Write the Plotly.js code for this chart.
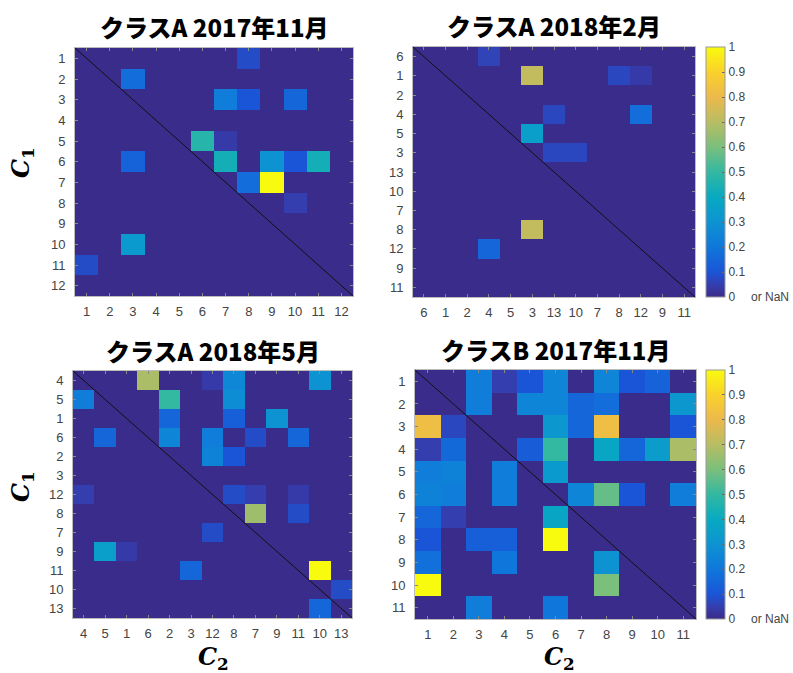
<!DOCTYPE html>
<html>
<head>
<meta charset="utf-8">
<script src="https://cdn.plot.ly/plotly-3.0.1.min.js"></script>
<style>html,body{margin:0;padding:0;background:#fff;}#chart{width:793px;height:673px;}</style>
</head>
<body>
<div id="chart"></div>
<script>
// ---- data ----
const titleA1 = "クラスA 2017年11月";
const titleA2 = "クラスA 2018年2月";
const titleA3 = "クラスA 2018年5月";
const titleB1 = "クラスB 2017年11月";

const labelsA1 = ["1","2","3","4","5","6","7","8","9","10","11","12"];
const zA1 = [
  [0,0,0,0,0,0,0,0.08,0,0,0,0],
  [0,0,0.17,0,0,0,0,0,0,0,0,0],
  [0,0,0,0,0,0,0.22,0.1,0,0.15,0,0],
  [0,0,0,0,0,0,0,0,0,0,0,0],
  [0,0,0,0,0,0.47,0.04,0,0,0,0,0],
  [0,0,0.14,0,0,0,0.43,0,0.3,0.1,0.43,0],
  [0,0,0,0,0,0,0,0.17,1,0,0,0],
  [0,0,0,0,0,0,0,0,0,0.05,0,0],
  [0,0,0,0,0,0,0,0,0,0,0,0],
  [0,0,0.33,0,0,0,0,0,0,0,0,0],
  [0.08,0,0,0,0,0,0,0,0,0,0,0],
  [0,0,0,0,0,0,0,0,0,0,0,0]
];

const labelsA2 = ["6","1","2","4","5","3","13","10","7","8","12","9","11"];
const zA2 = [
  [0,0,0,0.06,0,0,0,0,0,0,0,0,0],
  [0,0,0,0,0,0.72,0,0,0,0.07,0.04,0,0],
  [0,0,0,0,0,0,0,0,0,0,0,0,0],
  [0,0,0,0,0,0,0.07,0,0,0,0.17,0,0],
  [0,0,0,0,0,0.35,0,0,0,0,0,0,0],
  [0,0,0,0,0,0,0.07,0.07,0,0,0,0,0],
  [0,0,0,0,0,0,0,0,0,0,0,0,0],
  [0,0,0,0,0,0,0,0,0,0,0,0,0],
  [0,0,0,0,0,0,0,0,0,0,0,0,0],
  [0,0,0,0,0,0.72,0,0,0,0,0,0,0],
  [0,0,0,0.15,0,0,0,0,0,0,0,0,0],
  [0,0,0,0,0,0,0,0,0,0,0,0,0],
  [0,0,0,0,0,0,0,0,0,0,0,0,0]
];

const labelsA3 = ["4","5","1","6","2","3","12","8","7","9","11","10","13"];
const zA3 = [
  [0,0,0,0.68,0,0,0.04,0.26,0,0,0,0.3,0],
  [0.22,0,0,0,0.5,0,0,0.28,0,0,0,0,0],
  [0,0,0,0,0.15,0,0,0.13,0,0.3,0,0,0],
  [0,0.15,0,0,0.25,0,0.22,0,0.08,0,0.15,0,0],
  [0,0,0,0,0,0,0.24,0.1,0,0,0,0,0],
  [0,0,0,0,0,0,0,0,0,0,0,0,0],
  [0.05,0,0,0,0,0,0,0.08,0.05,0,0.04,0,0],
  [0,0,0,0,0,0,0,0,0.66,0,0.08,0,0],
  [0,0,0,0,0,0,0.08,0,0,0,0,0,0],
  [0,0.35,0.04,0,0,0,0,0,0,0,0,0,0],
  [0,0,0,0,0,0.15,0,0,0,0,0,1,0],
  [0,0,0,0,0,0,0,0,0,0,0,0,0.08],
  [0,0,0,0,0,0,0,0,0,0,0,0.15,0]
];

const labelsB1 = ["1","2","3","4","5","6","7","8","9","10","11"];
const zB1 = [
  [0,0,0.22,0.05,0.1,0.25,0,0.25,0.1,0.14,0],
  [0,0,0.22,0,0.25,0.25,0.15,0.17,0,0,0.32],
  [0.82,0.07,0,0,0,0.32,0.15,0.82,0,0,0.1],
  [0.05,0.16,0,0,0.12,0.5,0,0.38,0.15,0.34,0.68],
  [0.22,0.24,0,0.22,0,0.33,0,0,0,0,0],
  [0.24,0.22,0,0.22,0,0,0.25,0.57,0.1,0,0.22],
  [0.15,0.05,0,0,0,0.38,0,0,0,0,0],
  [0.1,0,0.13,0.13,0,1,0,0,0,0,0],
  [0.18,0,0,0.2,0,0,0,0.3,0,0,0],
  [1,0,0,0,0,0,0,0.6,0,0,0],
  [0,0,0.22,0,0,0.2,0,0,0,0,0]
];

const cbTicks = [0,0.1,0.2,0.3,0.4,0.5,0.6,0.7,0.8,0.9,1];
const cbTickText = ["0","0.1","0.2","0.3","0.4","0.5","0.6","0.7","0.8","0.9","1"];

// ---- style ----
const W = 793, H = 673;
const parula = [
  [0.0,'rgb(58,44,138)'],[0.05,'rgb(53,62,175)'],[0.1,'rgb(27,85,215)'],[0.2,'rgb(15,119,219)'],
  [0.3,'rgb(13,147,210)'],[0.4,'rgb(7,170,193)'],[0.5,'rgb(51,184,161)'],[0.6,'rgb(122,191,124)'],
  [0.7,'rgb(184,189,99)'],[0.8,'rgb(236,185,76)'],[0.9,'rgb(250,209,43)'],[1.0,'rgb(249,251,14)']
];
const tickFont = {family:'Liberation Sans, Arial, sans-serif', size:13, color:'#444'};
const titleFont = {family:'Noto Sans CJK JP, sans-serif', size:24, color:'#000', weight:900};

// panel pixel boxes [left, top, right, bottom]
const boxes = [[75,48,353,296],[413,47,695,297],[73,371,352,618],[415,370,696,619]];
const panels = [
  {z:zA1, labels:labelsA1, title:titleA1, scale:false},
  {z:zA2, labels:labelsA2, title:titleA2, scale:true},
  {z:zA3, labels:labelsA3, title:titleA3, scale:false},
  {z:zB1, labels:labelsB1, title:titleB1, scale:true}
];

const data = [];
const layout = {
  width:W, height:H, margin:{l:0,r:0,t:0,b:0}, paper_bgcolor:'#fff', plot_bgcolor:'#fff',
  showlegend:false, annotations:[], shapes:[]
};

panels.forEach((p,i)=>{
  const b = boxes[i];
  const n = i===0 ? '' : String(i+1);
  const xa = 'xaxis'+n, ya = 'yaxis'+n;
  const idx = p.labels.map((_,k)=>k);
  const tr = {
    type:'heatmap', z:p.z, x:idx, y:idx, xaxis:'x'+n, yaxis:'y'+n,
    colorscale:parula, zmin:0, zmax:1, showscale:p.scale, hoverongaps:false
  };
  if (p.scale) {
    tr.colorbar = {
      x:706/W, xanchor:'left', y:1-b[3]/H, yanchor:'bottom',
      len:b[3]-b[1], lenmode:'pixels', thickness:19, thicknessmode:'pixels',
      xpad:0, ypad:0, outlinewidth:1, outlinecolor:'#999',
      tickvals:cbTicks, ticktext:cbTickText, ticks:'inside', ticklen:3, tickcolor:'#666',
      tickfont:{family:'Liberation Sans, Arial, sans-serif', size:12, color:'#444'}
    };
    layout.annotations.push({
      text:'or NaN', xref:'paper', yref:'paper', x:749/W, y:1-b[3]/H, xanchor:'left', yanchor:'middle',
      showarrow:false, font:{family:'Liberation Sans, Arial, sans-serif', size:12, color:'#444'}
    });
  }
  data.push(tr);
  layout[xa] = {
    domain:[b[0]/W, b[2]/W], anchor:'y'+n, range:[-0.5, p.labels.length-0.5],
    tickvals:idx, ticktext:p.labels, tickfont:tickFont, ticks:'inside', ticklen:3, tickcolor:'#888',
    showgrid:false, zeroline:false, showline:true, linecolor:'#bbb', linewidth:1, mirror:'ticks',
    ticklabelstandoff:3, fixedrange:true
  };
  layout[ya] = {
    domain:[1-b[3]/H, 1-b[1]/H], anchor:'x'+n, range:[p.labels.length-0.5, -0.5],
    tickvals:idx, ticktext:p.labels, tickfont:tickFont, ticks:'inside', ticklen:3, tickcolor:'#888',
    showgrid:false, zeroline:false, showline:true, linecolor:'#bbb', linewidth:1, mirror:'ticks',
    ticklabelstandoff:6, fixedrange:true
  };
  // diagonal line
  layout.shapes.push({
    type:'line', xref:'x'+n+' domain', yref:'y'+n+' domain', x0:0, y0:1, x1:1, y1:0,
    line:{color:'#111', width:1}
  });
  // title
  layout.annotations.push({
    text:p.title, xref:'paper', yref:'paper', x:(b[0]+b[2])/2/W, y:1-(b[1]-21)/H,
    xanchor:'center', yanchor:'middle', showarrow:false, font:titleFont
  });
});

// axis labels C1 / C2
const axFont = {family:'DejaVu Serif, Liberation Serif, serif', size:24, color:'#000'};
[[22,163],[22,487]].forEach(pt=>{
  layout.annotations.push({
    text:'<b><i>C</i></b><sub><b>1</b></sub>', xref:'paper', yref:'paper', x:pt[0]/W, y:1-pt[1]/H,
    xanchor:'center', yanchor:'middle', textangle:-90, showarrow:false, font:axFont
  });
});
[[213,658],[559,658]].forEach(pt=>{
  layout.annotations.push({
    text:'<b><i>C</i></b><sub><b>2</b></sub>', xref:'paper', yref:'paper', x:pt[0]/W, y:1-pt[1]/H,
    xanchor:'center', yanchor:'middle', showarrow:false, font:axFont
  });
});

Plotly.newPlot('chart', data, layout, {displayModeBar:false, staticPlot:true});
</script>
</body>
</html>
